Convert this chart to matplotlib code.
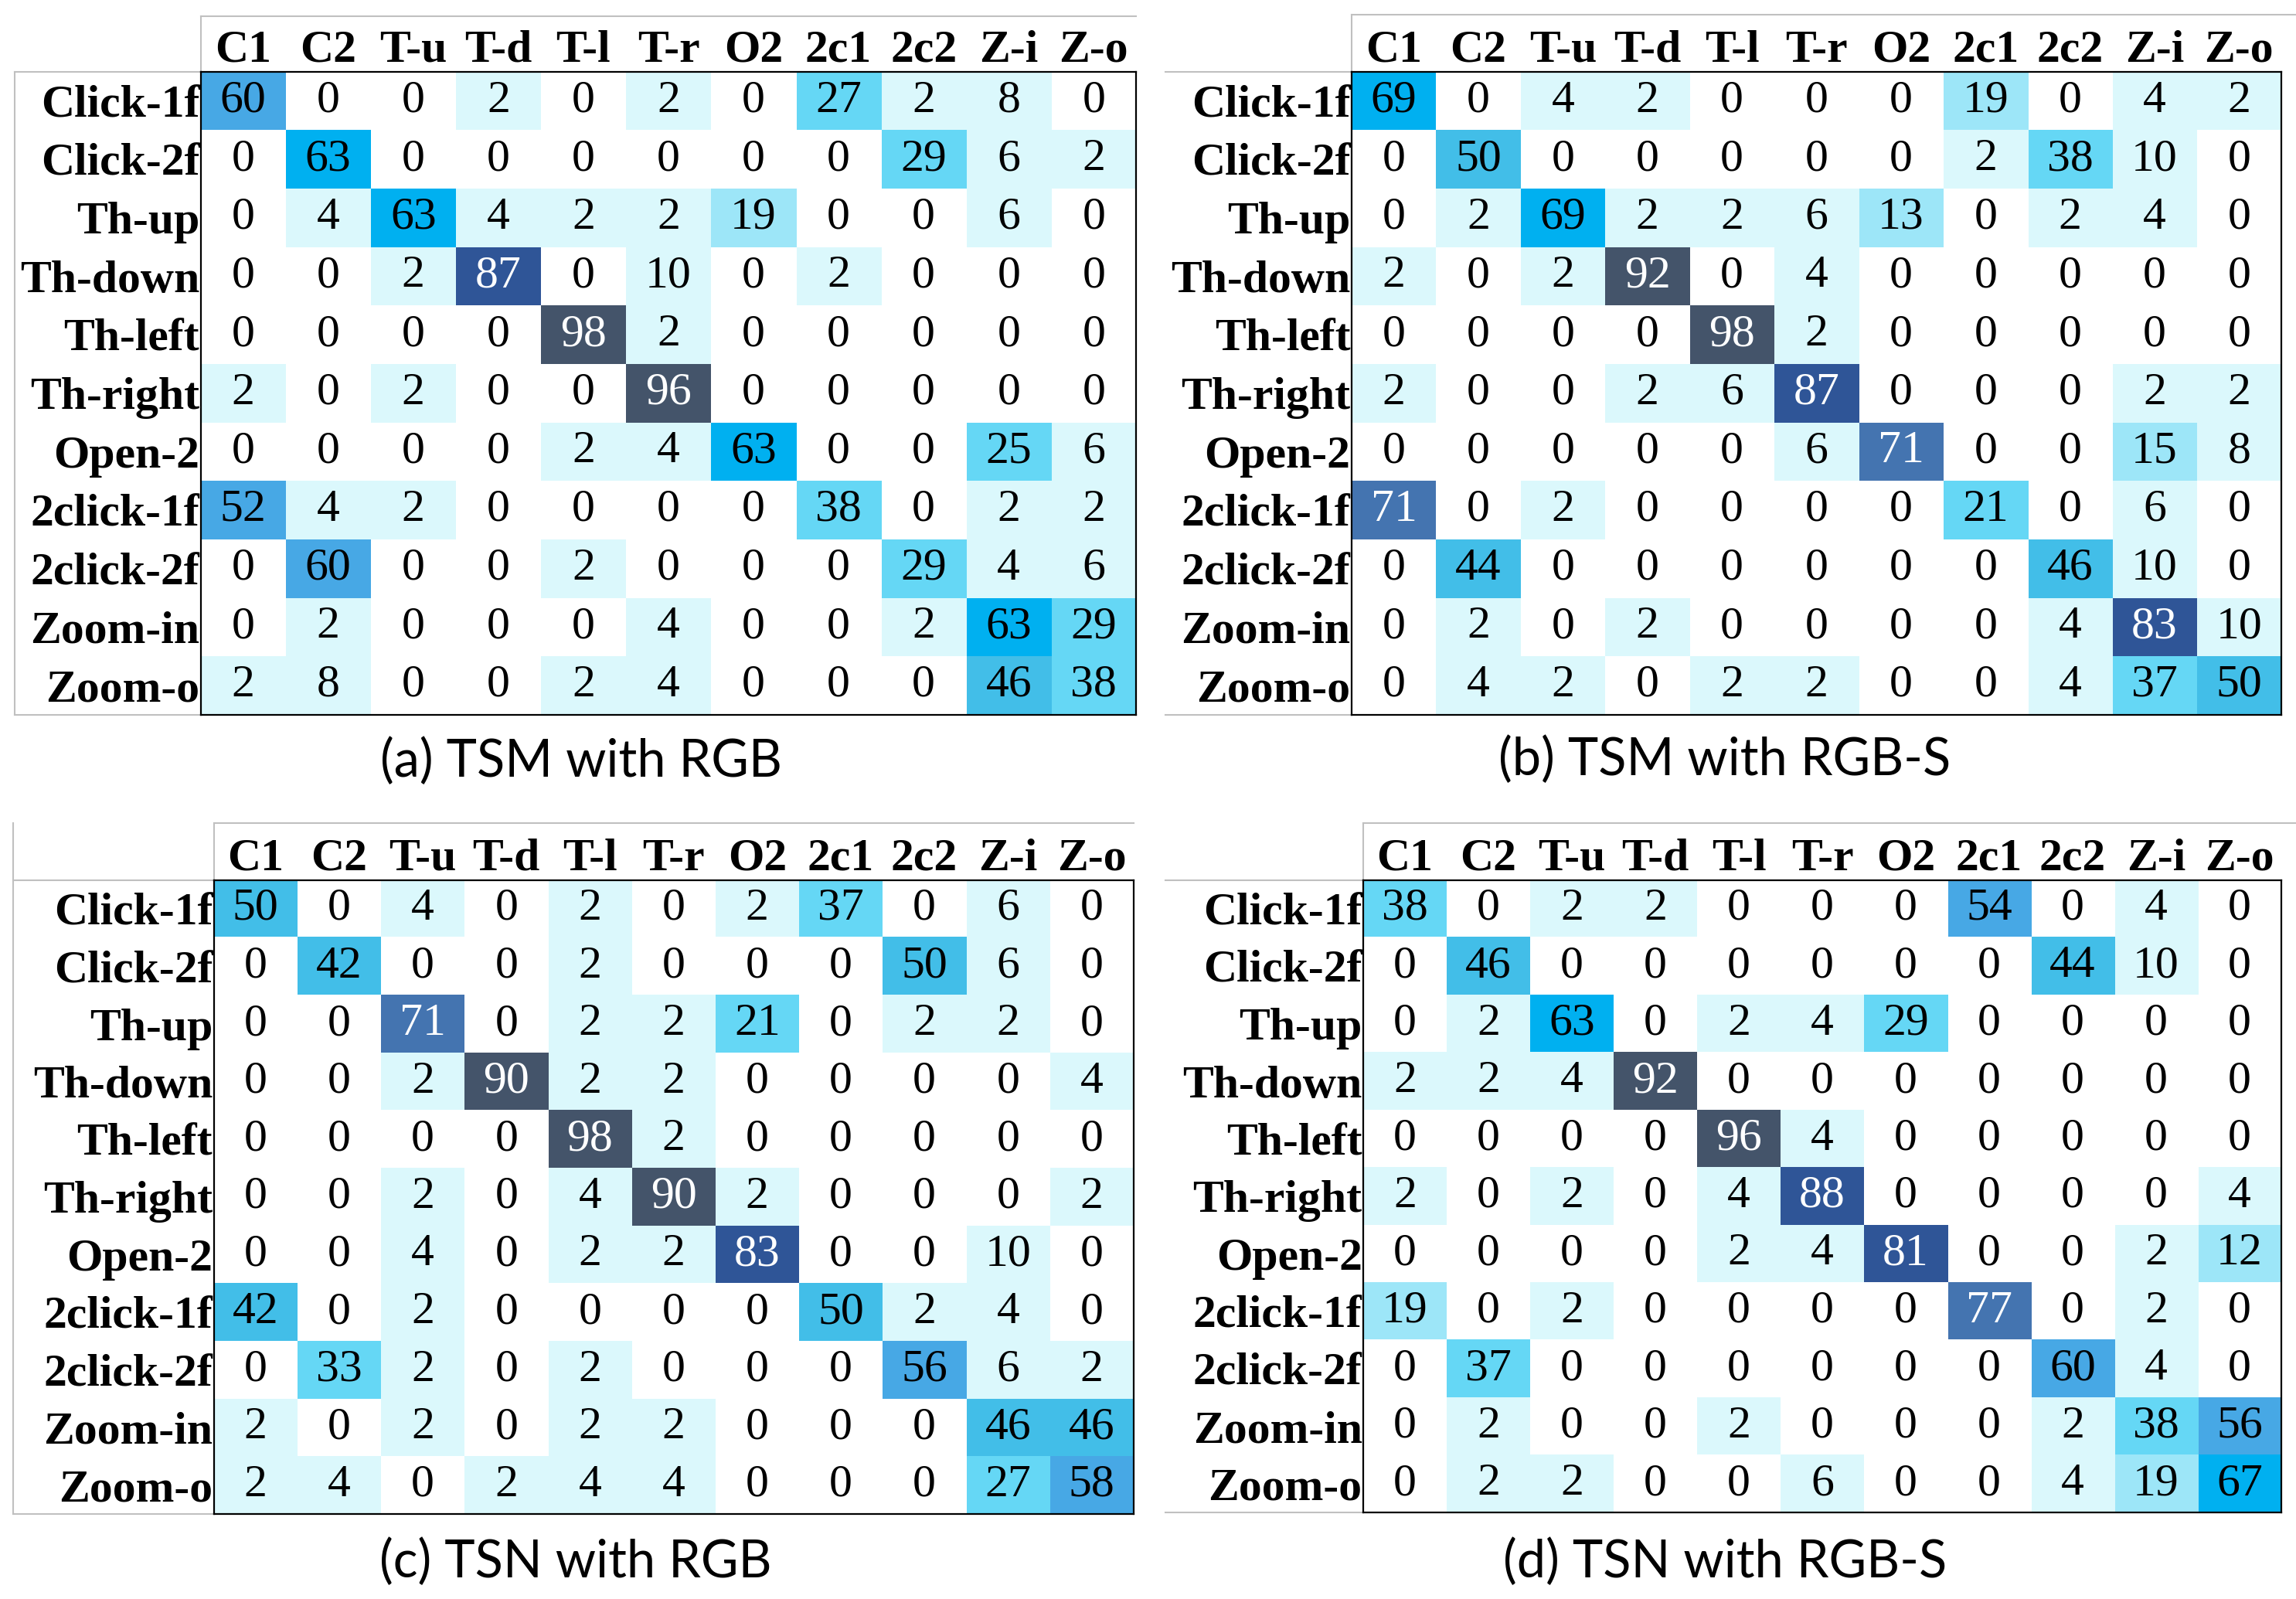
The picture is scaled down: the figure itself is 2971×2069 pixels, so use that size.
import numpy as np
import matplotlib.pyplot as plt
from matplotlib.colors import ListedColormap, BoundaryNorm
from matplotlib.lines import Line2D

row_labels = ["Click-1f", "Click-2f", "Th-up", "Th-down", "Th-left", "Th-right",
              "Open-2", "2click-1f", "2click-2f", "Zoom-in", "Zoom-o"]
col_labels = ["C1", "C2", "T-u", "T-d", "T-l", "T-r", "O2", "2c1", "2c2", "Z-i", "Z-o"]

tsm_rgb = [
    [60, 0, 0, 2, 0, 2, 0, 27, 2, 8, 0],
    [0, 63, 0, 0, 0, 0, 0, 0, 29, 6, 2],
    [0, 4, 63, 4, 2, 2, 19, 0, 0, 6, 0],
    [0, 0, 2, 87, 0, 10, 0, 2, 0, 0, 0],
    [0, 0, 0, 0, 98, 2, 0, 0, 0, 0, 0],
    [2, 0, 2, 0, 0, 96, 0, 0, 0, 0, 0],
    [0, 0, 0, 0, 2, 4, 63, 0, 0, 25, 6],
    [52, 4, 2, 0, 0, 0, 0, 38, 0, 2, 2],
    [0, 60, 0, 0, 2, 0, 0, 0, 29, 4, 6],
    [0, 2, 0, 0, 0, 4, 0, 0, 2, 63, 29],
    [2, 8, 0, 0, 2, 4, 0, 0, 0, 46, 38],
]
tsm_rgbs = [
    [69, 0, 4, 2, 0, 0, 0, 19, 0, 4, 2],
    [0, 50, 0, 0, 0, 0, 0, 2, 38, 10, 0],
    [0, 2, 69, 2, 2, 6, 13, 0, 2, 4, 0],
    [2, 0, 2, 92, 0, 4, 0, 0, 0, 0, 0],
    [0, 0, 0, 0, 98, 2, 0, 0, 0, 0, 0],
    [2, 0, 0, 2, 6, 87, 0, 0, 0, 2, 2],
    [0, 0, 0, 0, 0, 6, 71, 0, 0, 15, 8],
    [71, 0, 2, 0, 0, 0, 0, 21, 0, 6, 0],
    [0, 44, 0, 0, 0, 0, 0, 0, 46, 10, 0],
    [0, 2, 0, 2, 0, 0, 0, 0, 4, 83, 10],
    [0, 4, 2, 0, 2, 2, 0, 0, 4, 37, 50],
]
tsn_rgb = [
    [50, 0, 4, 0, 2, 0, 2, 37, 0, 6, 0],
    [0, 42, 0, 0, 2, 0, 0, 0, 50, 6, 0],
    [0, 0, 71, 0, 2, 2, 21, 0, 2, 2, 0],
    [0, 0, 2, 90, 2, 2, 0, 0, 0, 0, 4],
    [0, 0, 0, 0, 98, 2, 0, 0, 0, 0, 0],
    [0, 0, 2, 0, 4, 90, 2, 0, 0, 0, 2],
    [0, 0, 4, 0, 2, 2, 83, 0, 0, 10, 0],
    [42, 0, 2, 0, 0, 0, 0, 50, 2, 4, 0],
    [0, 33, 2, 0, 2, 0, 0, 0, 56, 6, 2],
    [2, 0, 2, 0, 2, 2, 0, 0, 0, 46, 46],
    [2, 4, 0, 2, 4, 4, 0, 0, 0, 27, 58],
]
tsn_rgbs = [
    [38, 0, 2, 2, 0, 0, 0, 54, 0, 4, 0],
    [0, 46, 0, 0, 0, 0, 0, 0, 44, 10, 0],
    [0, 2, 63, 0, 2, 4, 29, 0, 0, 0, 0],
    [2, 2, 4, 92, 0, 0, 0, 0, 0, 0, 0],
    [0, 0, 0, 0, 96, 4, 0, 0, 0, 0, 0],
    [2, 0, 2, 0, 4, 88, 0, 0, 0, 0, 4],
    [0, 0, 0, 0, 2, 4, 81, 0, 0, 2, 12],
    [19, 0, 2, 0, 0, 0, 0, 77, 0, 2, 0],
    [0, 37, 0, 0, 0, 0, 0, 0, 60, 4, 0],
    [0, 2, 0, 0, 2, 0, 0, 0, 2, 38, 56],
    [0, 2, 2, 0, 0, 6, 0, 0, 4, 19, 67],
]
matrices = [tsm_rgb, tsm_rgbs, tsn_rgb, tsn_rgbs]
captions = ["(a) TSM with RGB", "(b) TSM with RGB-S", "(c) TSN with RGB", "(d) TSN with RGB-S"]

# discrete colour steps used in the table shading
bounds = [0, 1, 11, 20, 40, 51, 61, 70, 80, 90, 101]
shades = ["#FFFFFF", "#DBF8FC", "#9DE6F8", "#65D7F5", "#42BEE8",
          "#47A8E5", "#00B0F0", "#4474B0", "#2F5597", "#44546A"]
cmap = ListedColormap(shades)
norm = BoundaryNorm(bounds, cmap.N)

# layout in reference pixels (1568 x 1092 canvas)
W, H = 1568.0, 1092.0
# heatmap box (x0, y0, x1, y1), left edge of table frame, header top, right end of header line, caption centre
layout = [
    dict(box=(137, 49, 776, 488), left=10, top=11, right=776, vline=True, cap=(397, 520)),
    dict(box=(923, 49, 1558, 488), left=796, top=10, right=1568, vline=False, cap=(1178, 519)),
    dict(box=(146, 601, 774, 1034), left=9, top=562, right=774, vline=True, cap=(393, 1067)),
    dict(box=(931, 601, 1558, 1033), left=796, top=562, right=1568, vline=False, cap=(1178, 1067)),
]

serif = "Liberation Serif"
grid_grey = "#C0C0C0"

fig = plt.figure(figsize=(29.71, 20.69), dpi=100)


def line(xs, ys):
    fig.add_artist(Line2D([x / W for x in xs], [1 - y / H for y in ys],
                          color=grid_grey, lw=1.5, zorder=0))


for mat, cap, lay in zip(matrices, captions, layout):
    x0, y0, x1, y1 = lay["box"]
    ax = fig.add_axes([x0 / W, 1 - y1 / H, (x1 - x0) / W, (y1 - y0) / H])
    data = np.array(mat)
    ax.imshow(data, cmap=cmap, norm=norm, aspect="auto", interpolation="nearest")
    for i in range(data.shape[0]):
        for j in range(data.shape[1]):
            v = data[i, j]
            ax.text(j, i, str(v), ha="center", va="center", fontsize=43,
                    family=serif, color="white" if v >= 70 else "black")
    ax.set_xticks(range(len(col_labels)))
    ax.set_xticklabels(col_labels, fontsize=43, fontweight="bold", family=serif)
    ax.set_yticks(range(len(row_labels)))
    ax.set_yticklabels(row_labels, fontsize=43, fontweight="bold", family=serif)
    ax.xaxis.tick_top()
    ax.tick_params(axis="x", length=0, pad=0)
    ax.tick_params(axis="y", length=0, pad=1)
    for sp in ax.spines.values():
        sp.set_linewidth(1.6)
        sp.set_color("black")

    # light table frame around the labels
    left, top = lay["left"], lay["top"]
    line([x0, lay["right"]], [top, top])
    line([x0, x0], [top, y0])
    line([left, x0], [y0, y0])
    line([left, x0], [y1, y1])
    if lay["vline"]:
        line([left, left], [top if top > 500 else y0, y1])

    cx, cy = lay["cap"]
    fig.text(cx / W, 1 - cy / H, cap, ha="center", va="center", fontsize=48, family="Lato")

fig.savefig("out.png", dpi=100)
